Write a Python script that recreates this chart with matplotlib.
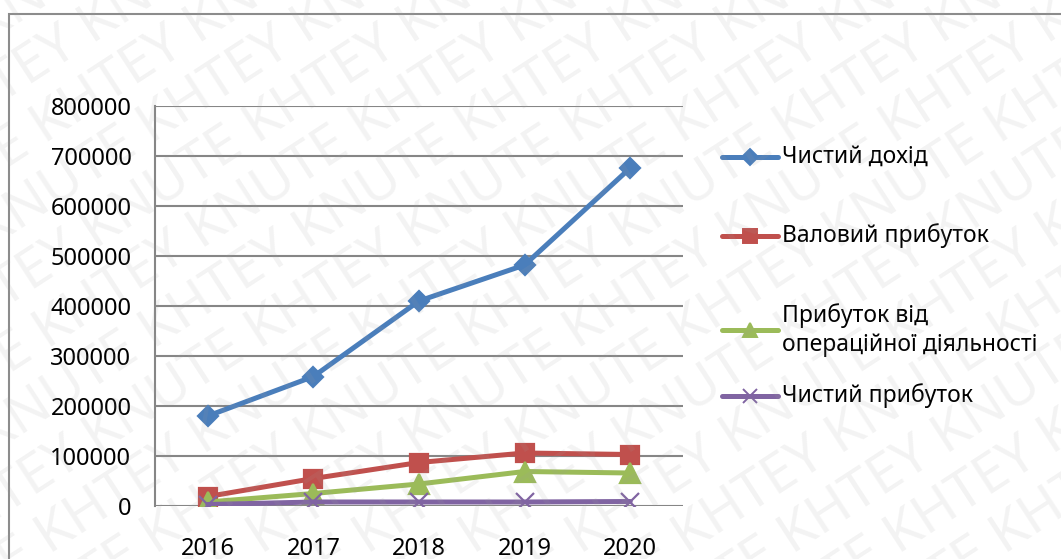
import matplotlib
matplotlib.use("Agg")
import matplotlib.pyplot as plt
import matplotlib.patches as patches
import matplotlib.lines as mlines
import matplotlib.ticker as ticker
import numpy as np

plt.rcParams['font.family'] = ['Noto Sans', 'DejaVu Sans']

years = ["2016", "2017", "2018", "2019", "2020"]
net_income = [180000, 259000, 410000, 482000, 676000]
gross_profit = [19000, 55000, 87000, 106000, 103000]
operating_profit = [8000, 25000, 44000, 69000, 66000]
net_profit = [3000, 8000, 8000, 8000, 9000]

series_names = ["Чистий дохід", "Валовий прибуток",
                "Прибуток від\nопераційної діяльності", "Чистий прибуток"]
yticks = [0, 100000, 200000, 300000, 400000, 500000, 600000, 700000, 800000]

W, H = 1061, 559
fig = plt.figure(figsize=(W / 100, H / 100), dpi=100)

# chart area border (cropped on right and bottom)
fig.patches.append(patches.Rectangle((9 / W, -0.1), 1.2, 1 - 14 / H + 0.1,
                                     transform=fig.transFigure, fill=False,
                                     edgecolor='#8c8c8c', linewidth=1.5))

ax = fig.add_axes([155 / W, 1 - 506 / H, (683 - 155) / W, (506 - 106) / H])
x = np.arange(len(years))

styles = [
    dict(c='#4a7ebb', marker='D', ms=10, lms=8),
    dict(c='#c0504d', marker='s', ms=13, lms=10),
    dict(c='#9bbb59', marker='^', ms=14, lms=10),
    dict(c='#8064a2', marker='x', ms=13, lms=10),
]
for vals, name, st in zip([net_income, gross_profit, operating_profit, net_profit],
                          series_names, styles):
    ax.plot(x, vals, color=st['c'], lw=3.6, marker=st['marker'], ms=st['ms'],
            mew=1.6, label=name, solid_capstyle='round', zorder=3)

ax.set_xlim(-0.5, len(years) - 0.5)
ax.set_ylim(0, 800000)
ax.set_yticks(yticks)
ax.yaxis.set_major_formatter(ticker.FuncFormatter(lambda v, p: "%d" % v))
ax.set_xticks(x)
ax.set_xticklabels(years)
ax.tick_params(length=0, labelsize=17)
ax.tick_params(axis='x', pad=22)
ax.tick_params(axis='y', pad=17)
ax.grid(axis='y', color='#868686', linewidth=1.5)
ax.set_axisbelow(True)
for s in ['top', 'right', 'bottom']:
    ax.spines[s].set_visible(False)
ax.spines['left'].set_color('#868686')
ax.spines['left'].set_linewidth(1.5)

# legend, laid out like the Excel one
leg_y = [157, 236, 330, 396]
for name, st, yy in zip(series_names, styles, leg_y):
    fy = 1 - yy / H
    line = mlines.Line2D([722 / W, 778 / W], [fy, fy], transform=fig.transFigure,
                         color=st['c'], lw=3.6, solid_capstyle='round')
    mark = mlines.Line2D([750 / W], [fy], transform=fig.transFigure,
                         color=st['c'], marker=st['marker'], ms=st['lms'], mew=1.4)
    fig.lines.extend([line, mark])
    fig.text(782 / W, fy, name, fontsize=16.5, va='center', ha='left',
             linespacing=1.25)

# watermark
for i in range(-8, 12):
    fig.text(-0.3 + i * 0.1, -0.2, "KNUTE KHTEY " * 8, rotation=33,
             fontsize=40, color='#a0a0a0', alpha=0.12, ha='left', va='bottom',
             rotation_mode='anchor', zorder=10)

fig.savefig("out.png", dpi=100)
